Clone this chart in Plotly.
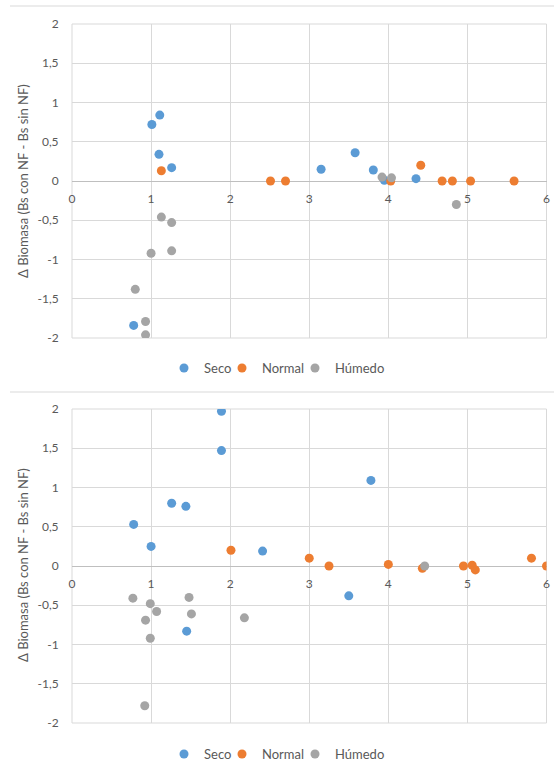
import plotly.graph_objects as go

# ---------------- data ----------------
# Top chart
top_seco_x = [1.01, 1.11, 1.10, 1.26, 0.78, 3.15, 3.58, 3.81, 3.95, 4.35]
top_seco_y = [0.72, 0.84, 0.34, 0.17, -1.84, 0.15, 0.36, 0.14, 0.01, 0.03]
top_normal_x = [1.13, 2.51, 2.70, 4.03, 4.41, 4.68, 4.81, 5.04, 5.59]
top_normal_y = [0.13, 0.00, 0.00, 0.00, 0.20, 0.00, 0.00, 0.00, 0.00]
top_humedo_x = [3.92, 4.04, 4.86, 1.13, 1.26, 1.00, 1.26, 0.80, 0.93, 0.93]
top_humedo_y = [0.05, 0.04, -0.30, -0.46, -0.53, -0.92, -0.89, -1.38, -1.79, -1.96]

# Bottom chart
bot_seco_x = [1.89, 1.89, 1.26, 1.44, 0.78, 1.00, 2.41, 3.78, 3.50, 1.45]
bot_seco_y = [1.97, 1.47, 0.80, 0.76, 0.53, 0.25, 0.19, 1.09, -0.38, -0.83]
bot_normal_x = [2.01, 3.00, 3.25, 4.00, 4.43, 4.95, 5.06, 5.10, 5.81, 6.00]
bot_normal_y = [0.20, 0.10, 0.00, 0.02, -0.03, 0.00, 0.01, -0.05, 0.10, 0.00]
bot_humedo_x = [0.77, 0.99, 1.07, 0.93, 0.99, 1.48, 1.51, 2.18, 0.92, 4.46]
bot_humedo_y = [-0.41, -0.48, -0.58, -0.69, -0.92, -0.40, -0.61, -0.66, -1.78, 0.00]

series_names = ["Seco", "Normal", "Húmedo"]
series_colors = ["#5B9BD5", "#ED7D31", "#A5A5A5"]

x_tickvals = [0, 1, 2, 3, 4, 5, 6]
x_ticktext = ["0", "1", "2", "3", "4", "5", "6"]
y_tickvals = [-2, -1.5, -1, -0.5, 0, 0.5, 1, 1.5, 2]
y_ticktext = ["-2", "-1,5", "-1", "-0,5", "0", "0,5", "1", "1,5", "2"]
y_title = "Δ Biomasa (Bs con NF - Bs sin NF)"

# ---------------- layout geometry ----------------
W, H = 554, 762
def py(p):
    return 1 - p / H

FONT = "Lato"
TXT = "#595959"
GRID = "#D9D9D9"
legend_entry_widths = [13, 28, None]  # px reserved for each legend label (tighter spacing)

fig = go.Figure()

top = [(top_seco_x, top_seco_y), (top_normal_x, top_normal_y), (top_humedo_x, top_humedo_y)]
bot = [(bot_seco_x, bot_seco_y), (bot_normal_x, bot_normal_y), (bot_humedo_x, bot_humedo_y)]

for lg, xa, ya, data in [("legend", "x", "y", top), ("legend2", "x2", "y2", bot)]:
    for (xs, ys), name, col, lw in zip(data, series_names, series_colors, legend_entry_widths):
        tr = go.Scatter(x=xs, y=ys, mode="markers", name=name,
                        marker=dict(color=col, size=9),
                        xaxis=xa, yaxis=ya, legend=lg)
        if lw is not None:
            tr.legendwidth = lw
        fig.add_trace(tr)

xdom = [72 / W, 546.5 / W]
top_dom = [py(338), py(24)]
bot_dom = [py(723), py(409)]

def xaxis_cfg(dom_y):
    return dict(domain=xdom, range=[0, 6], tickvals=x_tickvals, ticktext=x_ticktext,
                showgrid=True, gridcolor=GRID, gridwidth=1, zeroline=False,
                showline=False, anchor="free", position=(dom_y[0] + dom_y[1]) / 2,
                ticks="outside", ticklen=7, tickcolor="rgba(0,0,0,0)",
                tickfont=dict(family=FONT, size=12, color=TXT))

def yaxis_cfg(dom_y):
    return dict(domain=dom_y, range=[-2, 2], tickvals=y_tickvals, ticktext=y_ticktext,
                showgrid=True, gridcolor=GRID, gridwidth=1,
                zeroline=True, zerolinecolor="#BFBFBF", zerolinewidth=1,
                showline=False, ticks="outside", ticklen=10, tickcolor="rgba(0,0,0,0)",
                tickfont=dict(family=FONT, size=12, color=TXT))

fig.update_layout(
    width=W, height=H,
    margin=dict(l=0, r=0, t=0, b=0, autoexpand=False),
    paper_bgcolor="white", plot_bgcolor="white",
    font=dict(family=FONT, color=TXT, size=12),
    xaxis=xaxis_cfg(top_dom),
    yaxis=yaxis_cfg(top_dom),
    xaxis2=xaxis_cfg(bot_dom),
    yaxis2=yaxis_cfg(bot_dom),
    legend=dict(orientation="h", x=164 / W, xanchor="left", y=py(368), yanchor="middle",
                font=dict(family=FONT, size=13, color=TXT), itemwidth=30,
                bgcolor="rgba(0,0,0,0)"),
    legend2=dict(orientation="h", x=164 / W, xanchor="left", y=py(754), yanchor="middle",
                 font=dict(family=FONT, size=13, color=TXT), itemwidth=30,
                 bgcolor="rgba(0,0,0,0)"),
    showlegend=True,
)
fig.layout.yaxis.anchor = "x"
fig.layout.yaxis2.anchor = "x2"

# plot-area frames (outer gridlines)
for xr, yr in [("x domain", "y domain"), ("x2 domain", "y2 domain")]:
    fig.add_shape(type="rect", xref=xr, yref=yr, x0=0, x1=1, y0=0, y1=1,
                  line=dict(color=GRID, width=1), layer="below")

# axis titles
for cy in [181, 565]:
    fig.add_annotation(text=y_title, xref="paper", yref="paper", x=23 / W, y=py(cy),
                       textangle=-90, showarrow=False, xanchor="center", yanchor="middle",
                       font=dict(family=FONT, size=13, color=TXT))

# chart-area separators
for ly in [6, 392]:
    fig.add_shape(type="line", xref="paper", yref="paper", x0=10 / W, x1=1, y0=py(ly), y1=py(ly),
                  line=dict(color="#D9D9D9", width=1))

fig.write_html("out.html")
